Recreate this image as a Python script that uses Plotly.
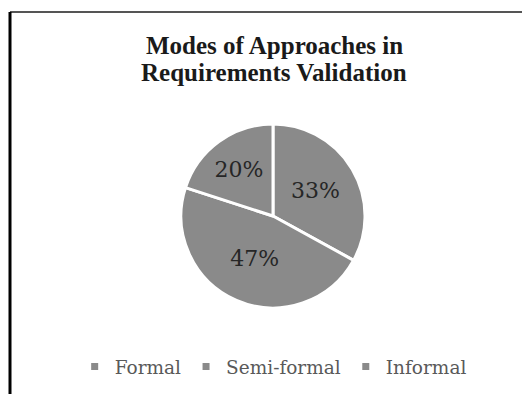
import plotly.graph_objects as go

LABELS = ["Formal", "Semi-formal", "Informal"]
VALUES = [33, 47, 20]
TITLE_LINES = ["Modes of Approaches in", "Requirements Validation"]

GREY = "#8a8a8a"
SERIF = "DejaVu Serif"
TITLE_FONT = "Liberation Serif"

# the page body adds an 8px margin, so the figure is drawn 8px in from the window edge
W, H = 522, 386


def main():
    fig = go.Figure()

    fig.add_trace(
        go.Pie(
            labels=LABELS,
            values=VALUES,
            sort=False,
            direction="clockwise",
            rotation=0,
            marker=dict(colors=[GREY] * 3, line=dict(color="white", width=3)),
            texttemplate="%{percent:.0%}",
            textposition="inside",
            insidetextorientation="horizontal",
            textfont=dict(family=SERIF, size=22, color="#262626"),
            domain=dict(x=[0.3314, 0.6839], y=[0.2228, 0.6995]),
            hoverinfo="label+percent",
            showlegend=False,
        )
    )

    # small square legend keys, one per category
    for label in LABELS:
        fig.add_trace(
            go.Scatter(
                x=[None],
                y=[None],
                mode="markers",
                name=label,
                marker=dict(symbol="square", size=7, color=GREY),
            )
        )

    # two-line title, set tighter than plotly's <br> spacing
    for i, line in enumerate(TITLE_LINES):
        fig.add_annotation(
            text=f"<b>{line}</b>",
            xref="paper",
            yref="paper",
            x=266 / W,
            y=1 - (37 + 28 * i) / H,
            xanchor="center",
            yanchor="middle",
            showarrow=False,
            font=dict(family=TITLE_FONT, size=25, color="#1a1a1a"),
        )

    # chart frame: top and left edges only
    fig.add_shape(type="line", xref="paper", yref="paper",
                  x0=2 / W, x1=1.0, y0=1 - 4 / H, y1=1 - 4 / H,
                  line=dict(color="#555555", width=2))
    fig.add_shape(type="line", xref="paper", yref="paper",
                  x0=2 / W, x1=2 / W, y0=0.0, y1=1 - 4 / H,
                  line=dict(color="black", width=3))

    fig.update_xaxes(visible=False)
    fig.update_yaxes(visible=False)
    fig.update_layout(
        width=W,
        height=H,
        margin=dict(l=0, r=0, t=0, b=0),
        paper_bgcolor="white",
        plot_bgcolor="white",
        legend=dict(
            orientation="h",
            x=0.508,
            xanchor="center",
            y=1 - 359 / H,
            yanchor="middle",
            font=dict(family=SERIF, size=18.5, color="#595959"),
            traceorder="normal",
        ),
    )

    fig.write_html("out.html")


if __name__ == "__main__":
    main()
